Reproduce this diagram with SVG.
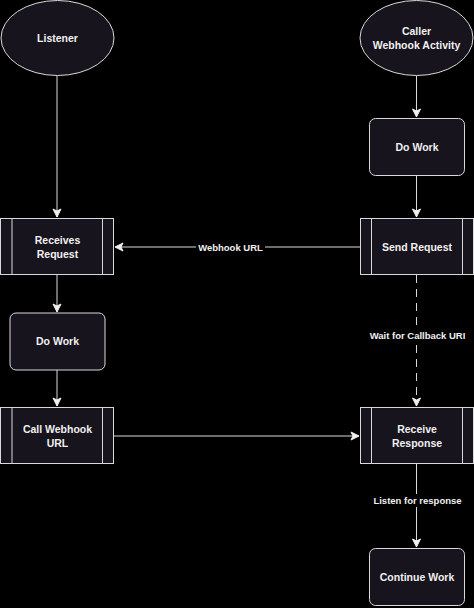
<svg xmlns="http://www.w3.org/2000/svg" width="474" height="608" viewBox="0 0 474 608">
<style>
.shape{fill:#18141d;stroke:#d9d9d9;stroke-width:1}
.t{fill:#f0f0f0;font-family:"Liberation Sans",Arial,sans-serif;font-weight:bold;font-size:10.5px;text-anchor:middle}
.lt{fill:#f0f0f0;font-family:"Liberation Sans",Arial,sans-serif;font-weight:bold;font-size:9.5px;text-anchor:middle}
.e{fill:none;stroke:#d9d9d9;stroke-width:1}
.lbg{fill:#000000}
</style>
<defs>
<marker id="arr" markerUnits="userSpaceOnUse" markerWidth="10" markerHeight="10" viewBox="0 0 10 10" refX="9" refY="5" orient="auto">
<path d="M1,1 L9,5 L1,9 L3,5 Z" fill="#f0f0f0" stroke="#f0f0f0" stroke-width="1"/>
</marker>
</defs>
<rect x="0" y="0" width="474" height="608" fill="#000000"/>
<g id="connectors">
<path class="e" d="M57,76 L57,217" marker-end="url(#arr)"/>
<path class="e" d="M416.5,76 L416.5,117" marker-end="url(#arr)"/>
<path class="e" d="M416.5,176 L416.5,217" marker-end="url(#arr)"/>
<path class="e" d="M360,247 L115,247" marker-end="url(#arr)"/>
<rect class="lbg" x="196" y="241" width="69" height="12"/>
<text class="lt" x="230.5" y="250.5">Webhook URL</text>
<path class="e" d="M57,275 L57,312" marker-end="url(#arr)"/>
<path class="e" d="M57,370 L57,406" marker-end="url(#arr)"/>
<path class="e" d="M114,436 L359,436" marker-end="url(#arr)"/>
<path class="e" d="M416.5,275 L416.5,406" stroke-dasharray="8 6" marker-end="url(#arr)"/>
<rect class="lbg" x="367" y="329" width="101" height="13"/>
<text class="lt" x="417.5" y="339">Wait for Callback URI</text>
<path class="e" d="M416.5,464 L416.5,547" marker-end="url(#arr)"/>
<rect class="lbg" x="372" y="494" width="92" height="13"/>
<text class="lt" x="417.5" y="504">Listen for response</text>
</g>
<g id="listener">
<ellipse class="shape" cx="57.5" cy="38" rx="56.5" ry="37.5"/>
<text class="t" x="57.5" y="42">Listener</text>
</g>
<g id="caller">
<ellipse class="shape" cx="416.5" cy="38" rx="56.5" ry="37.5"/>
<text class="t" x="416.5" y="35">Caller</text>
<text class="t" x="416.5" y="49">Webhook Activity</text>
</g>
<g id="do-work-right">
<rect class="shape" x="369.5" y="118.5" width="95" height="57" rx="6"/>
<text class="t" x="417" y="150.5">Do Work</text>
</g>
<g id="receives-request">
<rect class="shape" x="0.5" y="218.5" width="113" height="56"/>
<path class="e" d="M12,218.5 L12,274.5 M102.5,218.5 L102.5,274.5"/>
<text class="t" x="57.5" y="243.5">Receives</text>
<text class="t" x="57.5" y="257.5">Request</text>
</g>
<g id="send-request">
<rect class="shape" x="360.5" y="218.5" width="113" height="56"/>
<path class="e" d="M371.5,218.5 L371.5,274.5 M462.5,218.5 L462.5,274.5"/>
<text class="t" x="417" y="250.5">Send Request</text>
</g>
<g id="do-work-left">
<rect class="shape" x="10" y="313" width="95" height="57" rx="6"/>
<text class="t" x="57.5" y="345">Do Work</text>
</g>
<g id="call-webhook">
<rect class="shape" x="0.5" y="407.5" width="113" height="56"/>
<path class="e" d="M12,407.5 L12,463.5 M102.5,407.5 L102.5,463.5"/>
<text class="t" x="57.5" y="433">Call Webhook</text>
<text class="t" x="57.5" y="447">URL</text>
</g>
<g id="receive-response">
<rect class="shape" x="360.5" y="407.5" width="113" height="56"/>
<path class="e" d="M371.5,407.5 L371.5,463.5 M462.5,407.5 L462.5,463.5"/>
<text class="t" x="417" y="433">Receive</text>
<text class="t" x="417" y="447">Response</text>
</g>
<g id="continue-work">
<rect class="shape" x="369.5" y="548.5" width="95" height="57" rx="6"/>
<text class="t" x="417" y="580.5">Continue Work</text>
</g>
</svg>
